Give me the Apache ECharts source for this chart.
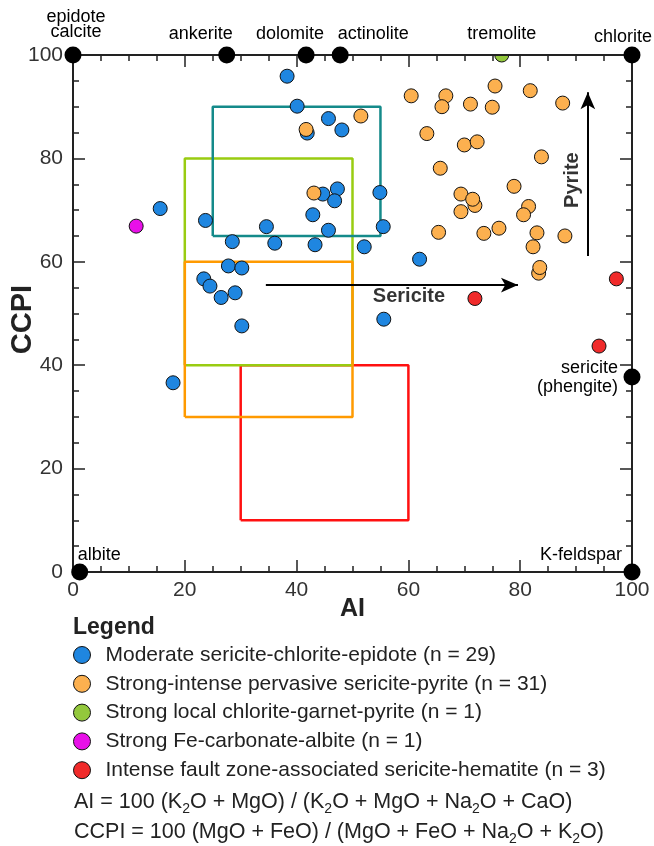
<!DOCTYPE html>
<html><head><meta charset="utf-8">
<script src="https://cdn.jsdelivr.net/npm/echarts@6/dist/echarts.min.js"></script>
<style>html,body{margin:0;padding:0;background:#fff}#c{width:654px;height:846px}</style>
</head><body><div id="c"></div>
<script>
// ---- data ----
const seriesNames = [
  'Moderate sericite-chlorite-epidote (n = 29)',
  'Strong-intense pervasive sericite-pyrite (n = 31)',
  'Strong local chlorite-garnet-pyrite (n = 1)',
  'Strong Fe-carbonate-albite (n = 1)',
  'Intense fault zone-associated sericite-hematite (n = 3)'
];
const blueData = [[38.3,95.9],[40.1,90.1],[41.9,84.9],[45.7,87.7],[48.1,85.5],[15.6,70.3],[23.7,68.0],[34.6,66.8],[28.5,63.9],[36.1,63.6],[43.3,63.3],[45.7,66.1],[42.9,69.1],[44.7,73.1],[47.3,74.1],[46.8,71.8],[27.8,59.2],[30.2,58.8],[23.4,56.7],[24.5,55.3],[26.5,53.1],[29.0,54.0],[30.2,47.6],[17.9,36.6],[54.9,73.4],[55.5,66.8],[52.1,62.9],[62.0,60.5],[55.6,48.9]];
const orangeData = [[41.7,85.6],[43.1,73.3],[51.5,88.2],[60.5,92.1],[66.7,92.1],[66.0,90.0],[71.1,90.5],[75.0,89.9],[75.5,94.0],[81.8,93.1],[87.6,90.7],[63.3,84.8],[70.0,82.6],[72.3,83.2],[83.8,80.3],[65.7,78.1],[78.9,74.6],[69.4,73.1],[71.9,70.9],[71.5,72.1],[69.4,69.7],[81.5,70.7],[80.6,69.1],[83.0,65.6],[88.0,65.0],[65.4,65.7],[73.5,65.5],[76.2,66.5],[82.3,62.9],[83.3,57.8],[83.5,58.9]];
const greenData = [[76.7,100]];
const magentaData = [[11.3,66.9]];
const redData = [[71.9,52.9],[97.2,56.7],[94.1,43.7]];
const mineralNames = ['epidote\ncalcite','ankerite','dolomite','actinolite','tremolite','chlorite','sericite\n(phengite)','albite','K-feldspar'];
const mineralValues = [[0,100],[27.5,100],[41.7,100],[47.8,100],[76.7,100],[100,100],[100,37.7],[1.2,0],[100,0]];
// fields: [AI min, CCPI min, AI max, CCPI max]
const fieldRed = [30,10,60,40];
const fieldGreen = [20,40,50,80];
const fieldOrange = [20,30,50,60];
const fieldTeal = [25,65,55,90];
const arrowSericite = [[34.5,55.5],[79.6,55.5]];
const arrowPyrite = [[92.1,61.1],[92.1,92.8]];
const annotNames = ['Sericite','Pyrite'];
const annotValues = [[60.1,53.2],[89.4,75.8]];
const xTicks = {min:0, max:100, interval:20};
const yTicks = {min:0, max:100, interval:20};

// ---- styles ----
const FF = 'Liberation Sans, Arial, Helvetica, sans-serif';
const colors = ['#1f86e0','#fcb04f','#93c83c','#e810e8','#f02a2a'];
const fieldColors = {red:'#ff1010', green:'#99cc11', orange:'#ff9a00', teal:'#148a8a'};
const mineralLabel = {
  'epidote\ncalcite': {offset:[3,-30], align:'center', lineHeight:15},
  'ankerite': {offset:[-26,-21], align:'center'},
  'dolomite': {offset:[-16,-21], align:'center'},
  'actinolite': {offset:[33,-21], align:'center'},
  'tremolite': {offset:[0,-21], align:'center'},
  'chlorite': {offset:[-9,-18], align:'center'},
  'sericite\n(phengite)': {offset:[-14,0], align:'right', lineHeight:19},
  'albite': {offset:[-2,-17], align:'left'},
  'K-feldspar': {offset:[-10,-17], align:'right'}
};

function rectPath(r){ return [[r[0],r[1]],[r[2],r[1]],[r[2],r[3]],[r[0],r[3]],[r[0],r[1]]]; }
function fieldSeries(r, c){
  return {type:'line', data:rectPath(r), showSymbol:false, symbol:'none', silent:true, z:1,
    lineStyle:{color:c, width:2.5}, animation:false};
}
const axisLineStyle = {color:'#222', width:2};
function axisBase(pos, showLabel, ticks){
  return Object.assign({type:'value', position:pos, gridIndex:0, nameMoveOverlap:false,
    axisLine:{show:true, onZero:false, lineStyle:axisLineStyle},
    axisTick:{show:true, inside:true, length:12, lineStyle:{color:'#222', width:1.5}},
    minorTick:{show:true, splitNumber:4, length:6, lineStyle:{color:'#222', width:1.5}},
    splitLine:{show:false}, minorSplitLine:{show:false},
    axisLabel:{show:showLabel, fontSize:21, color:'#333', fontFamily:FF, margin:8}
  }, ticks);
}
const xBottom = Object.assign(axisBase('bottom', true, xTicks), {name:'AI', nameLocation:'middle', nameGap:25,
  nameTextStyle:{fontSize:25, fontWeight:'bold', color:'#222', fontFamily:FF}});
const xTop = Object.assign(axisBase('top', false, xTicks), {z:5});
const yLeft = Object.assign(axisBase('left', true, yTicks), {name:'CCPI', nameLocation:'middle', nameGap:36,
  nameTextStyle:{fontSize:29, fontWeight:'bold', color:'#222', fontFamily:FF, padding:[0,12,0,0]}});
yLeft.axisLabel.margin = 10;
const yRight = axisBase('right', false, yTicks);

const pointStyle = c => ({color:c, borderColor:'#111', borderWidth:1, opacity:1});
function pointSeries(name, data, c, z){
  return {type:'scatter', name:name, data:data, symbolSize:14, itemStyle:pointStyle(c), z:z||3, animation:false};
}

const chart = echarts.init(document.getElementById('c'), null, {renderer:'canvas'});
chart.setOption({
  animation:false,
  textStyle:{fontFamily:FF},
  grid:{left:73, right:22, top:55, bottom:274, containLabel:false, outerBoundsMode:'none'},
  xAxis:[xBottom, xTop],
  yAxis:[yLeft, yRight],
  title:{text:'Legend', left:73, top:616, padding:0, textStyle:{fontSize:23, fontWeight:'bold', color:'#222', fontFamily:FF}},
  legend:{orient:'vertical', left:68, top:639.5, itemWidth:17, itemHeight:17, itemGap:7.8, icon:'circle',
    selectedMode:false, data:seriesNames,
    itemStyle:{borderColor:'#111', borderWidth:1, opacity:1},
    textStyle:{fontSize:21, color:'#222', fontFamily:FF, padding:[0,0,0,10]}},
  graphic:[
    {type:'text', left:74, top:789, z:20, style:{text:'AI = 100 (K{s|2}O + MgO) / (K{s|2}O + MgO + Na{s|2}O + CaO)',
      fontSize:21.5, fontFamily:FF, fill:'#222', lineHeight:26,
      rich:{s:{fontSize:14, fontFamily:FF, fill:'#222', verticalAlign:'bottom', lineHeight:27}}}},
    {type:'text', left:74, top:819, z:20, style:{text:'CCPI = 100 (MgO + FeO) / (MgO + FeO + Na{s|2}O + K{s|2}O)',
      fontSize:21.5, fontFamily:FF, fill:'#222', lineHeight:26,
      rich:{s:{fontSize:14, fontFamily:FF, fill:'#222', verticalAlign:'bottom', lineHeight:27}}}}
  ],
  series:[
    fieldSeries(fieldRed, fieldColors.red),
    fieldSeries(fieldGreen, fieldColors.green),
    fieldSeries(fieldOrange, fieldColors.orange),
    fieldSeries(fieldTeal, fieldColors.teal),
    pointSeries(seriesNames[0], blueData, colors[0]),
    pointSeries(seriesNames[1], orangeData, colors[1]),
    pointSeries(seriesNames[2], greenData, colors[2], 2),
    pointSeries(seriesNames[3], magentaData, colors[3]),
    pointSeries(seriesNames[4], redData, colors[4]),
    {type:'scatter', name:'minerals', silent:true, z:10, animation:false,
      data: mineralNames.map((n,i)=>({name:n, value:mineralValues[i],
        symbolSize: n==='tremolite' ? 0 : 17,
        label:Object.assign({show:true, position:'inside', formatter:'{b}', fontSize:18, color:'#000', fontFamily:FF, verticalAlign:'middle'}, mineralLabel[n])})),
      itemStyle:{color:'#000', opacity:1}},
    {type:'scatter', name:'annotations', silent:true, z:6, animation:false, symbolSize:0,
      data: annotNames.map((n,i)=>({name:n, value:annotValues[i],
        label:{show:true, position:'inside', formatter:'{b}', fontSize:20, fontWeight:'bold', color:'#000', fontFamily:FF,
          rotate: n==='Pyrite' ? 90 : 0}})),
      markLine:{silent:true, animation:false, symbol:['none','arrow'], symbolSize:[11,17], label:{show:false},
        lineStyle:{color:'#000', width:2, type:'solid'},
        data:[
          [{coord:arrowSericite[0]},{coord:arrowSericite[1]}],
          [{coord:arrowPyrite[0]},{coord:arrowPyrite[1]}]
        ]}}
  ]
});
// cover the upper half of a sample sitting on the top frame, as in the source figure
const gp = chart.convertToPixel({gridIndex:0}, [0,100]);
chart.setOption({graphic:[{}, {}, {type:'rect', z:4, silent:true, shape:{x:gp[0], y:gp[1]-12, width:560, height:11}, style:{fill:'#fff'}}]});
</script></body></html>
